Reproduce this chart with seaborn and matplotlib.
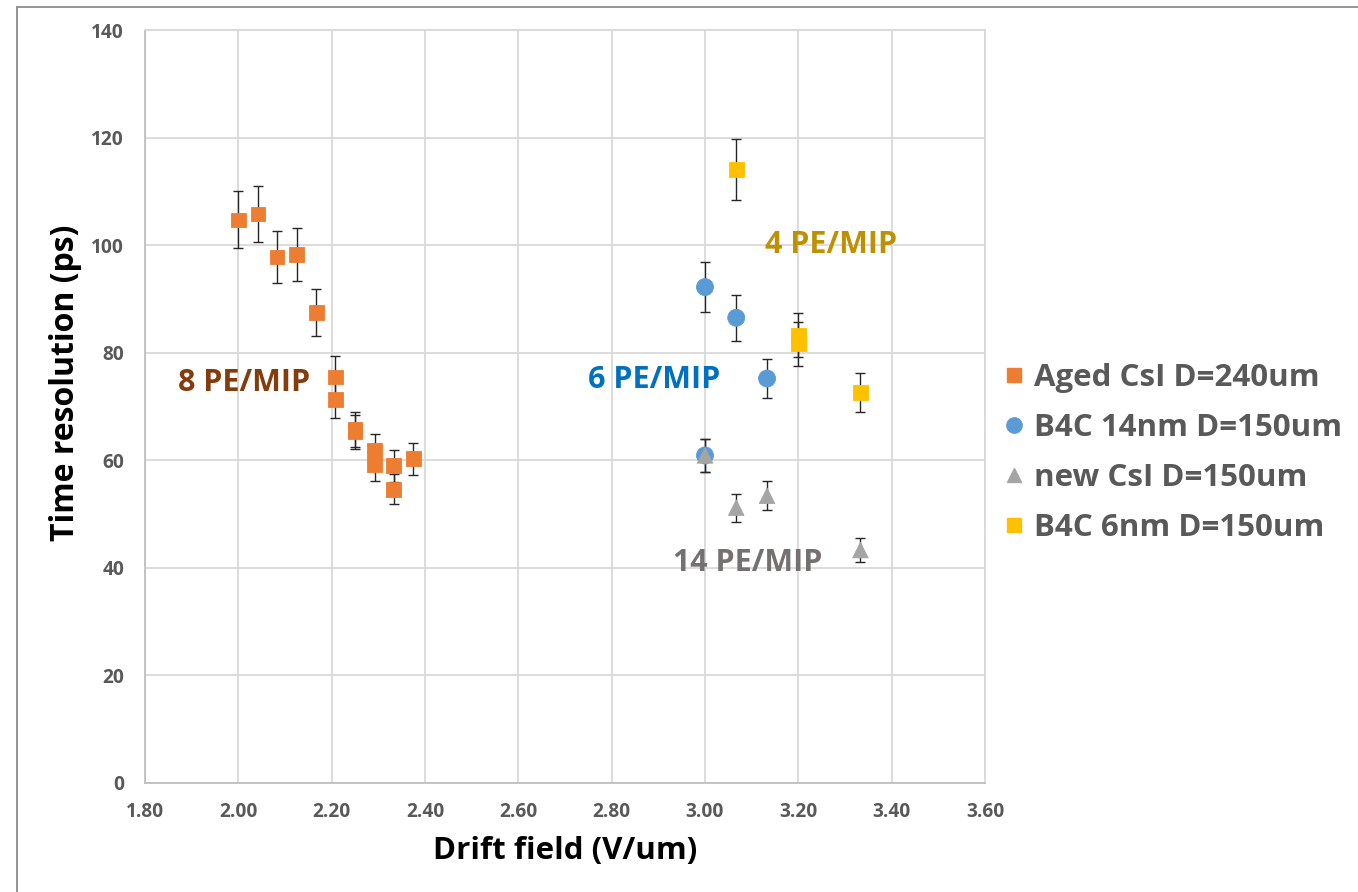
import numpy as np
import pandas as pd
import matplotlib
matplotlib.use("Agg")
import matplotlib.pyplot as plt
from matplotlib.lines import Line2D
import seaborn as sns

# Drift field (V/um), time resolution (ps) and its uncertainty for each detector setup
aged_field = [2.000, 2.042, 2.083, 2.125, 2.167, 2.208, 2.208, 2.250, 2.250, 2.292, 2.292, 2.333, 2.333, 2.375]
aged_res = [104.7, 105.8, 97.8, 98.2, 87.5, 75.5, 71.3, 65.7, 65.3, 61.8, 59.1, 59.0, 54.6, 60.3]
aged_err = [5.3, 5.2, 4.9, 4.9, 4.3, 3.9, 3.5, 3.3, 3.2, 3.1, 2.9, 3.0, 2.8, 3.0]

b4c14_field = [3.000, 3.067, 3.133, 3.000]
b4c14_res = [92.2, 86.5, 75.2, 60.9]
b4c14_err = [4.7, 4.3, 3.7, 3.0]

newcsi_field = [3.000, 3.067, 3.133, 3.333]
newcsi_res = [60.9, 51.2, 53.4, 43.3]
newcsi_err = [3.0, 2.6, 2.7, 2.2]

b4c6_field = [3.067, 3.200, 3.200, 3.333]
b4c6_res = [114.1, 83.3, 81.7, 72.6]
b4c6_err = [5.7, 4.1, 4.1, 3.6]

series_names = ["Aged CsI D=240um", "B4C 14nm D=150um", "new CsI D=150um", "B4C 6nm D=150um"]
series_colors = ["#ED7D31", "#5B9BD5", "#A5A5A5", "#FFC000"]
series_markers = ["s", "o", "^", "s"]
series_sizes = [112, 150, 125, 112]

x_ticks = [1.8, 2.0, 2.2, 2.4, 2.6, 2.8, 3.0, 3.2, 3.4, 3.6]
y_ticks = [0, 20, 40, 60, 80, 100, 120, 140]

# Photoelectron yield notes: text, position (field, resolution), colour
pe_notes = [
    ("8 PE/MIP", 1.870, 74.4, "#843C0C"),
    ("6 PE/MIP", 2.749, 74.9, "#0070C0"),
    ("4 PE/MIP", 3.128, 100.0, "#BF9000"),
    ("14 PE/MIP", 2.932, 40.9, "#767171"),
]

frames = []
for name, fx, ry, er in zip(
    series_names,
    [aged_field, b4c14_field, newcsi_field, b4c6_field],
    [aged_res, b4c14_res, newcsi_res, b4c6_res],
    [aged_err, b4c14_err, newcsi_err, b4c6_err],
):
    frames.append(pd.DataFrame({"field": fx, "res": ry, "err": er, "series": name}))
df = pd.concat(frames, ignore_index=True)

sns.set_theme(style="whitegrid")
plt.rcParams["font.family"] = ["Open Sans", "DejaVu Sans"]

fig = plt.figure(figsize=(13.58, 8.92), dpi=100)
ax = fig.add_axes([145 / 1358, 1 - 783 / 892, 840 / 1358, 753 / 892])

ax.errorbar(df["field"], df["res"], yerr=df["err"], fmt="none",
            ecolor="#262626", elinewidth=1.0, capsize=3.3, capthick=1.0, zorder=2)

sns.scatterplot(
    data=df, x="field", y="res", hue="series", style="series", size="series",
    hue_order=series_names, style_order=series_names, size_order=series_names,
    palette=dict(zip(series_names, series_colors)),
    markers=dict(zip(series_names, series_markers)),
    sizes=dict(zip(series_names, series_sizes)),
    linewidth=0.6, edgecolor="face", legend=False, ax=ax, zorder=3,
)

ax.set_xlim(1.8, 3.6)
ax.set_ylim(0, 140)
ax.set_xticks(x_ticks)
ax.set_xticklabels([f"{v:.2f}" for v in x_ticks])
ax.set_yticks(y_ticks)
ax.set_yticklabels([str(v) for v in y_ticks])
ax.tick_params(axis="both", length=0, labelsize=13.8, labelcolor="#595959")
ax.tick_params(axis="x", pad=14)
ax.tick_params(axis="y", pad=15)
for lab in ax.get_xticklabels() + ax.get_yticklabels():
    lab.set_fontweight("bold")

ax.grid(True, color="#D9D9D9", linewidth=1.3)
for side, sp in ax.spines.items():
    sp.set_visible(True)
    sp.set_linewidth(1.3)
    sp.set_color("#BFBFBF" if side in ("left", "bottom") else "#D9D9D9")

ax.set_xlabel("Drift field (V/um)", fontsize=22.5, fontweight="bold", color="black")
ax.set_ylabel("Time resolution (ps)", fontsize=23, fontweight="bold", color="black")
ax.xaxis.set_label_coords(0.5, (783 - 836) / 753)
ax.yaxis.set_label_coords((82 - 145) / 840, (783 - 383) / 753)

for text, tx, ty, col in pe_notes:
    ax.text(tx, ty, text, color=col, fontsize=22, fontweight="bold",
            ha="left", va="center", zorder=4)

handles = [
    Line2D([], [], linestyle="none", marker=m, markersize=np.sqrt(s) * 0.9,
           markerfacecolor=c, markeredgecolor=c)
    for m, c, s in zip(series_markers, series_colors, series_sizes)
]
leg = ax.legend(handles, series_names, loc="center left",
                bbox_to_anchor=(1003 / 1358, 1 - 453 / 892), bbox_transform=fig.transFigure,
                frameon=False, fontsize=22.5, handlelength=0.7, handletextpad=0.3,
                labelspacing=0.64, borderpad=0, borderaxespad=0)
for t in leg.get_texts():
    t.set_color("#595959")
    t.set_fontweight("bold")

# Outer frame along the top and left of the figure
fig.add_artist(Line2D([17 / 1358, 17 / 1358], [0, 1 - 7 / 892], transform=fig.transFigure,
                      color="#8C8C8C", linewidth=1.3))
fig.add_artist(Line2D([17 / 1358, 1], [1 - 7 / 892, 1 - 7 / 892], transform=fig.transFigure,
                      color="#8C8C8C", linewidth=1.3))

fig.savefig("out.png", dpi=100, facecolor="white")
